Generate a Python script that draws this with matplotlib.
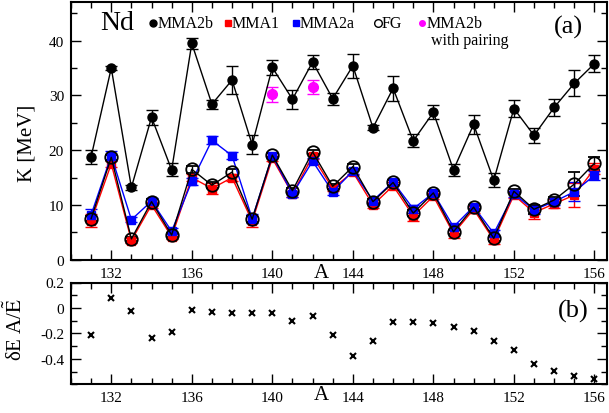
import numpy as np
import matplotlib
matplotlib.use("Agg")
import matplotlib.pyplot as plt

plt.rcParams['font.family'] = ['Liberation Serif', 'DejaVu Serif']
plt.rcParams['mathtext.fontset'] = 'stix'

## Data
A = np.arange(131, 157)

k_mma2b = [18.8, 35.0, 13.2, 26.0, 16.4, 39.5, 28.4, 32.8, 21.0, 35.1, 29.3, 36.1, 29.4,
           35.4, 24.1, 31.3, 21.7, 26.9, 16.4, 24.7, 14.5, 27.6, 22.7, 27.8, 32.2, 35.8]
err_mma2b = [1.3, 0.4, 0.5, 1.4, 1.2, 1.0, 0.8, 2.5, 1.7, 1.4, 1.7, 1.3, 1.1,
             2.2, 0.5, 2.3, 1.2, 1.3, 1.1, 1.8, 1.3, 1.6, 1.4, 1.5, 2.4, 1.6]

k_mma1 = [7.1, 17.5, 3.5, 10.0, 4.2, 15.0, 13.0, 15.0, 7.0, 18.5, 12.0, 18.9, 13.0,
          16.0, 10.0, 13.5, 8.0, 11.6, 4.8, 9.2, 3.6, 11.8, 8.6, 10.2, 11.8, 16.6]
err_mma1 = [1.2, 0.5, 0.5, 0.5, 0.5, 0.6, 1.0, 0.6, 1.0, 0.5, 0.6, 0.5, 0.5,
            0.5, 0.6, 0.6, 1.0, 0.6, 0.8, 0.6, 0.7, 0.6, 1.2, 0.8, 2.2, 1.0]

k_mma2a = [8.2, 19.0, 7.3, 10.7, 5.2, 14.3, 21.8, 19.0, 7.5, 19.0, 12.0, 18.0, 12.4,
           16.2, 10.8, 14.2, 9.3, 12.2, 6.0, 9.7, 4.8, 12.0, 9.1, 10.6, 12.4, 15.4]
err_mma2a = [1.0, 0.8, 0.5, 0.5, 0.5, 0.6, 0.7, 0.7, 0.8, 0.5, 0.6, 0.5, 0.5,
             0.5, 0.5, 0.5, 0.7, 0.5, 0.6, 0.5, 0.6, 0.5, 0.8, 0.6, 1.7, 0.8]

k_fg = [7.5, 18.7, 3.8, 10.6, 4.5, 16.5, 13.6, 16.0, 7.4, 19.1, 12.6, 19.7, 13.4,
        17.0, 10.6, 14.1, 8.5, 12.2, 5.1, 9.6, 3.9, 12.5, 9.2, 10.9, 13.8, 17.6]
err_fg = [0.5, 0.5, 0.4, 0.4, 0.4, 0.6, 0.5, 0.5, 0.5, 0.4, 0.5, 0.4, 0.4,
          0.4, 0.4, 0.4, 0.5, 0.4, 0.4, 0.4, 0.4, 0.4, 0.8, 0.5, 2.2, 1.2]

A_pair = [140, 142]
k_pair = [30.2, 31.5]
err_pair = [1.35, 1.3]

dE = [-0.21, 0.077, -0.024, -0.236, -0.19, -0.018, -0.029, -0.04, -0.042, -0.04, -0.106,
      -0.064, -0.21, -0.377, -0.257, -0.11, -0.11, -0.12, -0.15, -0.183, -0.257, -0.33,
      -0.443, -0.496, -0.536, -0.56]


fig = plt.figure(figsize=(6.09, 4.14), dpi=100)
W, H = 609, 414

def px_axes(left, top, right, bottom):
    return fig.add_axes([left / W, 1 - bottom / H, (right - left) / W, (bottom - top) / H])

ax1 = px_axes(71, 3.3, 606.5, 260.7)
ax2 = px_axes(71, 283.5, 606.5, 385.3)

eb = dict(capsize=4, elinewidth=1, capthick=1, lw=1)
ax1.errorbar(A, k_mma1, yerr=err_mma1, fmt='-s', color='red', ms=6, **eb)
ax1.errorbar(A, k_mma2a, yerr=err_mma2a, fmt='-s', color='blue', ms=6, **eb)
ax1.errorbar(A, k_fg, yerr=err_fg, fmt='-o', color='black', mfc='none', ms=9, mew=1.3, **eb)
ax1.errorbar(A, k_mma2b, yerr=err_mma2b, fmt='-o', color='black', ms=6.5, **eb)
ax1.errorbar(A_pair, k_pair, yerr=err_pair, fmt='o', color='magenta', ms=7, capsize=4,
             elinewidth=1, capthick=1)

ax2.plot(A, dE, 'x', color='black', ms=4.5, mew=1.5)

for ax in (ax1, ax2):
    ax.set_xlim(130, 156.6)
    ax.set_xticks(np.arange(132, 157, 4))
    ax.set_xticks(np.arange(130, 157, 1), minor=True)
    ax.tick_params(which='both', direction='in', top=True, right=True, labelsize=11, width=1)
    ax.tick_params(which='major', length=7, pad=5)
    ax.tick_params(which='minor', length=4)
    for s in ax.spines.values():
        s.set_linewidth(1.5)

# "A" axis label sitting among the tick labels
ax1.text(142.45, -(273.5 - 260.7) / 257.4, 'A', transform=ax1.get_xaxis_transform(),
         ha='center', va='center', fontsize=15)
ax2.text(142.45, -(396 - 385.3) / 101.8, 'A', transform=ax2.get_xaxis_transform(),
         ha='center', va='center', fontsize=15)

ax1.set_ylim(0, 47)
ax1.set_yticks([0, 10, 20, 30, 40])
ax1.set_yticks(np.arange(0, 47, 5), minor=True)
ax1.set_ylabel('K [MeV]', fontsize=15)
ax1.yaxis.set_label_coords(-0.064, 0.455)

ax2.set_ylim(-0.6, 0.2)
ax2.set_yticks([-0.4, -0.2, 0, 0.2])
ax2.set_yticklabels(['-0.4', '-0.2', '0', '0.2'])
ax2.set_yticks(np.arange(-0.6, 0.21, 0.1), minor=True)
ax2.set_ylabel(r'δE A/$\tilde{\rm E}$', fontsize=15)
ax2.yaxis.set_label_coords(-0.082, 0.553)

# legend row
def fx(x):
    return (x - 71) / 535.5

def fy(y):
    return (260.7 - y) / 257.4

ax1.text(fx(117.5), fy(24), 'Nd', transform=ax1.transAxes, ha='center', va='center', fontsize=20)
leg = [(153.3, 'o', 'black', 'black', 5, 'MMA2b'),
       (227.7, 's', 'red', 'red', 5, 'MMA1'),
       (296, 's', 'blue', 'blue', 5, 'MMA2a'),
       (377.7, 'o', 'black', 'none', 5.5, 'FG'),
       (422.3, 'o', 'magenta', 'magenta', 4, 'MMA2b')]
for x, m, c, fc, s, lab in leg:
    ax1.plot([fx(x)], [fy(24)], m, color=c, mfc=fc, ms=s, transform=ax1.transAxes, clip_on=False)
    ax1.text(fx(x + 4), fy(24), lab, transform=ax1.transAxes, ha='left', va='center', fontsize=11.5)
ax1.text(fx(431), fy(41), 'with pairing', transform=ax1.transAxes, ha='left', va='center',
         fontsize=11.5)

ax1.text(fx(568), fy(27), '(a)', transform=ax1.transAxes, ha='center', va='center', fontsize=19)
ax2.text((573 - 71) / 535.5, (385.3 - 311.7) / 101.8, '(b)', transform=ax2.transAxes,
         ha='center', va='center', fontsize=19)

fig.savefig('out.png', dpi=100)
